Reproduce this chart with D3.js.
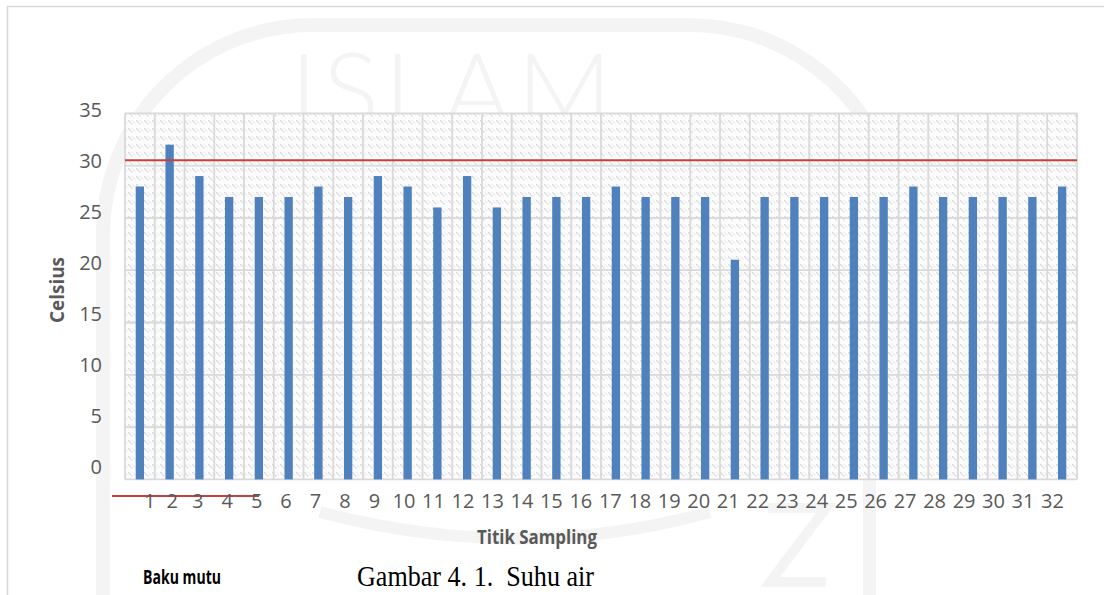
<!DOCTYPE html>
<html>
<head>
<meta charset="utf-8">
<script src="https://cdn.jsdelivr.net/npm/d3@7"></script>
<style>
  html, body { margin: 0; padding: 0; background: #ffffff; }
  svg { display: block; }
</style>
</head>
<body>
<svg id="chart" width="1104" height="595"></svg>
<script>
// Titik sampling (sampling points) along the river
const categories = ["1","2","3","4","5","6","7","8","9","10","11","12","13","14","15","16",
                    "17","18","19","20","21","22","23","24","25","26","27","28","29","30","31","32"];
// Water temperature at each sampling point (°C)
const suhu = [28,32,29,27,27,27,28,27,29,28,26,29,26,27,27,27,
              28,27,27,27,21,27,27,27,27,27,28,27,27,27,27,28];
// Quality standard (baku mutu) for water temperature
const bakuMutu = 30.5;
// Value axis ticks
const yTicks = [0,5,10,15,20,25,30,35];

const svg = d3.select("#chart");
const W = 1104, H = 595;

// plot area
const plot = { left: 125, right: 1077, top: 113.3, bottom: 479.4 };

const defs = svg.append("defs");
const pat = defs.append("pattern")
  .attr("id", "dots").attr("patternUnits", "userSpaceOnUse")
  .attr("width", 8).attr("height", 8);
pat.append("rect").attr("width", 8).attr("height", 8).attr("fill", "#fcfcfc");
[[0,0],[1.5,1.5],[3,3]].forEach(([a,b]) =>
  pat.append("rect").attr("x", a).attr("y", b).attr("width", 1.5).attr("height", 1.5).attr("fill", "#d8d8d8"));
[[4.5,0.5],[6,2]].forEach(([a,b]) =>
  pat.append("rect").attr("x", a).attr("y", b).attr("width", 1.3).attr("height", 1.3).attr("fill", "#e8e8e8"));

// faint page watermark
const wmColor = "#f4f4f4";
const wm = svg.append("g").attr("fill", "none").attr("stroke", wmColor);
wm.append("path").attr("stroke-width", 14)
  .attr("d", "M103,600 L103,235 A210,210 0 0 1 313,25 L690,25 A210,210 0 0 1 885,160");
wm.append("text").attr("stroke", "none").attr("fill", wmColor)
  .attr("x", 290).attr("y", 128)
  .attr("font-family", "Lato, Open Sans, sans-serif").attr("font-weight", 300).attr("font-size", 105)
  .attr("textLength", 322).attr("lengthAdjust", "spacing")
  .text("ISLAM");
wm.append("path").attr("stroke-width", 12)
  .attr("d", "M320,512 Q520,565 710,512");
wm.append("rect").attr("stroke", "none").attr("fill", wmColor)
  .attr("x", 863).attr("y", 480).attr("width", 13).attr("height", 115);
wm.append("path").attr("stroke-width", 10)
  .attr("d", "M768,508 L826,508 L770,582 L826,582");

// outer frame
svg.append("path").attr("fill", "none").attr("stroke", "#d9d9d9").attr("stroke-width", 1.5)
  .attr("d", `M7.5,${H} L7.5,6.5 L${W},6.5`);

// scales
const x = d3.scaleBand().domain(categories)
  .range([plot.left, plot.right]).paddingInner(0.72).paddingOuter(0.36);
const y = d3.scaleLinear().domain([0, 35]).range([plot.bottom, plot.top]);
// label placement scales
const yLab = d3.scaleLinear().domain([0, 35]).range([467, 110]);
const xLab = d3.scalePoint().domain(categories).range([138.7, 1052.5]);
const labelNudge = { "1": 11, "2": 4 };

// plot background
svg.append("rect")
  .attr("x", plot.left).attr("y", plot.top)
  .attr("width", plot.right - plot.left).attr("height", plot.bottom - plot.top)
  .attr("fill", "url(#dots)");

// gridlines
const grid = svg.append("g").attr("stroke", "#d9d9d9").attr("stroke-width", 1.8);
grid.selectAll("line.h").data(yTicks).join("line").attr("class", "h")
  .attr("x1", plot.left).attr("x2", plot.right)
  .attr("y1", d => y(d)).attr("y2", d => y(d));
const step = x.step();
grid.selectAll("line.v").data(categories.concat(["end"])).join("line").attr("class", "v")
  .attr("x1", (d, i) => plot.left + i * step).attr("x2", (d, i) => plot.left + i * step)
  .attr("y1", plot.top).attr("y2", plot.bottom);

// bars
svg.append("g").selectAll("rect").data(suhu).join("rect")
  .attr("x", (d, i) => x(categories[i]))
  .attr("y", d => y(d))
  .attr("width", x.bandwidth())
  .attr("height", d => y(0) - y(d))
  .attr("fill", "#4f81bd");

// standard line
svg.append("line")
  .attr("x1", plot.left).attr("x2", plot.right)
  .attr("y1", y(bakuMutu)).attr("y2", y(bakuMutu))
  .attr("stroke", "#c8403e").attr("stroke-width", 2);

// legend line for baku mutu
svg.append("line")
  .attr("x1", 112).attr("x2", 259).attr("y1", 496).attr("y2", 496)
  .attr("stroke", "#c8403e").attr("stroke-width", 2);

// y tick labels
svg.append("g").selectAll("text").data(yTicks).join("text")
  .attr("x", 102).attr("y", d => yLab(d)).attr("dy", "0.36em")
  .attr("text-anchor", "end")
  .attr("font-family", "Open Sans, sans-serif").attr("font-size", 20)
  .attr("fill", "#595959")
  .text(d => d);

// x tick labels
svg.append("g").selectAll("text").data(categories).join("text")
  .attr("x", d => xLab(d) + (labelNudge[d] || 0)).attr("y", 501).attr("dy", "0.36em")
  .attr("text-anchor", "middle")
  .attr("font-family", "Open Sans, sans-serif").attr("font-size", 20)
  .attr("fill", "#595959")
  .text(d => d);

// axis titles
svg.append("text")
  .attr("transform", "translate(64,290) rotate(-90)")
  .attr("text-anchor", "middle")
  .attr("font-family", "Open Sans, sans-serif").attr("font-weight", 700).attr("font-size", 19)
  .attr("textLength", 66).attr("lengthAdjust", "spacingAndGlyphs")
  .attr("fill", "#595959")
  .text("Celsius");

svg.append("text")
  .attr("x", 477).attr("y", 544)
  .attr("font-family", "Open Sans, sans-serif").attr("font-weight", 700).attr("font-size", 19)
  .attr("textLength", 120).attr("lengthAdjust", "spacingAndGlyphs")
  .attr("fill", "#595959")
  .text("Titik Sampling");

svg.append("text")
  .attr("x", 143).attr("y", 584)
  .attr("font-family", "Open Sans, sans-serif").attr("font-weight", 700).attr("font-size", 20)
  .attr("textLength", 78).attr("lengthAdjust", "spacingAndGlyphs")
  .attr("fill", "#000000")
  .text("Baku mutu");

svg.append("text")
  .attr("x", 357).attr("y", 586)
  .attr("font-family", "Liberation Serif, Times New Roman, serif").attr("font-size", 30)
  .attr("textLength", 237).attr("lengthAdjust", "spacingAndGlyphs")
  .attr("fill", "#000000")
  .attr("xml:space", "preserve")
  .text("Gambar 4. 1.  Suhu air");
</script>
</body>
</html>
